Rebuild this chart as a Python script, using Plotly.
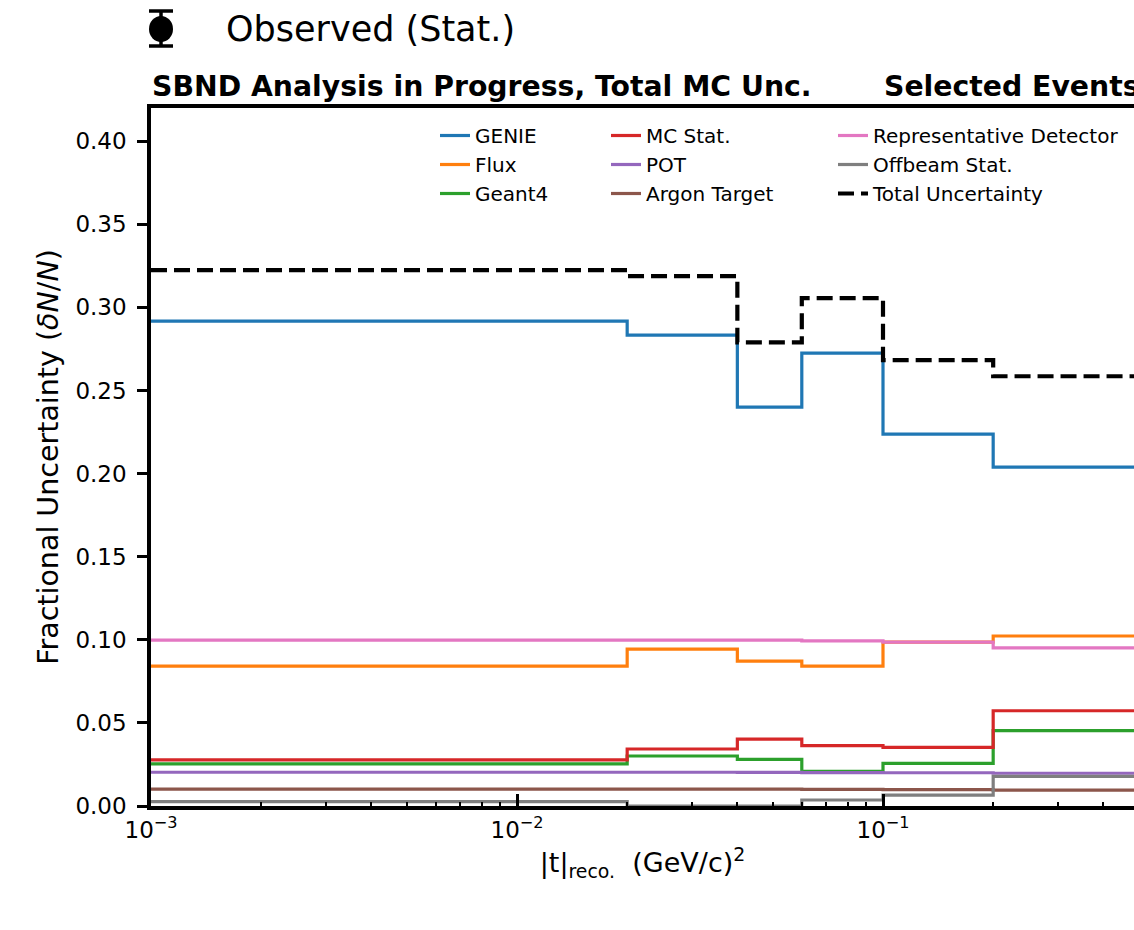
import plotly.graph_objects as go

# ---- data ----
bin_edges = [1e-3, 0.02, 0.04, 0.06, 0.1, 0.2, 1.0]
genie = [0.2917, 0.2833, 0.2400, 0.2725, 0.2238, 0.2039]
flux = [0.0842, 0.0944, 0.0872, 0.0842, 0.0986, 0.1023]
geant4 = [0.0253, 0.0301, 0.0281, 0.0208, 0.0257, 0.0453]
mc_stat = [0.0277, 0.0343, 0.0403, 0.0363, 0.0353, 0.0573]
pot = [0.0203, 0.0203, 0.0202, 0.0201, 0.0200, 0.0197]
argon = [0.0102, 0.0102, 0.0101, 0.0100, 0.0099, 0.0096]
rep_det = [0.0998, 0.0998, 0.0998, 0.0994, 0.0986, 0.0952]
offbeam = [0.0026, 0.0, 0.0, 0.0036, 0.0066, 0.0178]
total = [0.3224, 0.3188, 0.2790, 0.3056, 0.2683, 0.2586]

series = [
    ("GENIE", genie, "#1f77b4", "solid", "legend"),
    ("Flux", flux, "#ff7f0e", "solid", "legend"),
    ("Geant4", geant4, "#2ca02c", "solid", "legend"),
    ("MC Stat.", mc_stat, "#d62728", "solid", "legend2"),
    ("POT", pot, "#9467bd", "solid", "legend2"),
    ("Argon Target", argon, "#8c564b", "solid", "legend2"),
    ("Representative Detector", rep_det, "#e377c2", "solid", "legend3"),
    ("Offbeam Stat.", offbeam, "#7f7f7f", "solid", "legend3"),
    ("Total Uncertainty", total, "black", "dash", "legend3"),
]

x_tickvals = [1e-3, 1e-2, 1e-1]
x_ticktext = ["10<sup>\u22123</sup>", "10<sup>\u22122</sup>", "10<sup>\u22121</sup>"]
y_tickvals = [0.0, 0.05, 0.10, 0.15, 0.20, 0.25, 0.30, 0.35, 0.40]
y_ticktext = ["0.00", "0.05", "0.10", "0.15", "0.20", "0.25", "0.30", "0.35", "0.40"]
minor_vals = [m * 10.0 ** e for e in (-3, -2, -1) for m in range(2, 10)]

# ---- layout geometry (px) ----
W, H = 1134, 930
L, R, T, B = 151, 0, 108, 124
PW, PH = W - L - R, H - T - B


def px(x):
    return (x - L) / PW


def py(y):
    return (H - B - y) / PH


FONT = "DejaVu Sans"

fig = go.Figure()
for name, vals, color, dash, leg in series:
    fig.add_trace(go.Scatter(
        x=bin_edges, y=list(vals) + [vals[-1]],
        mode="lines",
        line=dict(shape="hv", color=color,
                  width=3.2 if dash == "solid" else 4.2,
                  dash="solid" if dash == "solid" else "16px,7px"),
        name=name, legend=leg, hoverinfo="skip",
    ))

legend_common = dict(
    font=dict(family=FONT, size=20, color="black"),
    bgcolor="rgba(0,0,0,0)", borderwidth=0,
    xanchor="left", yanchor="top", orientation="v",
)

fig.update_layout(
    width=W, height=H,
    margin=dict(l=L, r=R, t=T, b=B, autoexpand=False),
    paper_bgcolor="white", plot_bgcolor="white",
    font=dict(family=FONT, color="black"),
    showlegend=True,
    legend=dict(x=px(435), y=py(116), **legend_common),
    legend2=dict(x=px(606), y=py(116), **legend_common),
    legend3=dict(x=px(833), y=py(116), **legend_common),
    xaxis=dict(
        type="log", range=[-3, -3 + (W - L) / 366.0],
        tickmode="array", tickvals=x_tickvals, ticktext=x_ticktext,
        ticks="inside", ticklen=12, tickwidth=3, tickcolor="black",
        tickfont=dict(family=FONT, size=23, color="black"),
        showline=True, linecolor="black", linewidth=4, mirror=True,
        showgrid=False, zeroline=False,
        minor=dict(tickmode="array", tickvals=minor_vals, ticks="inside", ticklen=4,
                   tickwidth=1.5, tickcolor="black", showgrid=False),
        title=dict(text="|t|<sub>reco.</sub>  (GeV/c)<sup>2</sup>",
                   font=dict(family=FONT, size=27, color="black"), standoff=8),
    ),
    yaxis=dict(
        range=[0, 0.42],
        tickmode="array", tickvals=y_tickvals, ticktext=y_ticktext,
        ticks="outside", ticklen=10, tickwidth=3, tickcolor="black",
        ticklabelstandoff=6,
        tickfont=dict(family=FONT, size=23, color="black"),
        showline=True, linecolor="black", linewidth=3.5, mirror=False,
        showgrid=False, zeroline=False,
        title=dict(text="Fractional Uncertainty (<i>\u03b4N</i>/<i>N</i>)",
                   font=dict(family=FONT, size=28.5, color="black"), standoff=9),
    ),
)

# titles above axes
fig.add_annotation(x=px(150), y=py(86), xref="paper", yref="paper", xanchor="left", yanchor="middle",
                   text="<b>SBND Analysis in Progress, Total MC Unc.</b>", showarrow=False,
                   font=dict(family=FONT, size=28.3, color="black"))
fig.add_annotation(x=px(882), y=py(86), xref="paper", yref="paper", xanchor="left", yanchor="middle",
                   text="<b>Selected Events</b>", showarrow=False,
                   font=dict(family=FONT, size=28.3, color="black"))

# "Observed (Stat.)" legend entry (errorbar glyph + label)
cx, cy = 161, 29
fig.add_shape(type="circle", xref="paper", yref="paper", x0=px(cx - 12), x1=px(cx + 12),
              y0=py(cy + 13), y1=py(cy - 13), fillcolor="black", line=dict(color="black", width=0))
fig.add_shape(type="line", xref="paper", yref="paper", x0=px(cx), x1=px(cx), y0=py(11), y1=py(46),
              line=dict(color="black", width=3.5))
for yy in (11, 46):
    fig.add_shape(type="line", xref="paper", yref="paper", x0=px(cx - 12), x1=px(cx + 12),
                  y0=py(yy), y1=py(yy), line=dict(color="black", width=3.5))
fig.add_annotation(x=px(224), y=py(29), xref="paper", yref="paper", xanchor="left", yanchor="middle",
                   text="Observed (Stat.)", showarrow=False, font=dict(family=FONT, size=35, color="black"))

fig.write_html(
    "out.html",
    config={"displayModeBar": False},
    post_script="document.body.style.margin='0';document.body.style.overflow='hidden';",
)
